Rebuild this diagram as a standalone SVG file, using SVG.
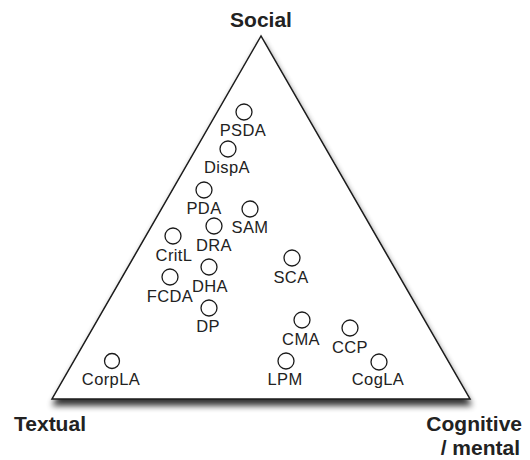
<svg xmlns="http://www.w3.org/2000/svg" width="530" height="460" viewBox="0 0 530 460">
<defs>
<filter id="sh" x="-10%" y="-10%" width="120%" height="125%">
<feGaussianBlur in="SourceAlpha" stdDeviation="3"/>
<feOffset dx="1" dy="6" result="b"/>
<feComponentTransfer><feFuncA type="linear" slope="0.8"/></feComponentTransfer>
<feMerge><feMergeNode/><feMergeNode in="SourceGraphic"/></feMerge>
</filter>
<style>
.tri{fill:#fff;stroke:#1a1a1a;stroke-width:1.5;stroke-linejoin:miter}
.n circle{fill:#fff;stroke:#1a1a1a;stroke-width:1.3}
.n text{font-family:"Liberation Sans",Arial,sans-serif;font-size:16.5px;letter-spacing:0.4px;fill:#222;text-anchor:middle}
.ax{font-family:"Liberation Sans",Arial,sans-serif;font-size:21px;font-weight:bold;fill:#222}
</style>
</defs>
<rect width="530" height="460" fill="#fff"/>
<polygon class="tri" points="261,36 52,399 470,399" filter="url(#sh)"/>
<text class="ax" x="261" y="27" text-anchor="middle">Social</text>
<text class="ax" x="14" y="431">Textual</text>
<text class="ax" x="522" y="431" text-anchor="end">Cognitive</text>
<text class="ax" x="520" y="455" text-anchor="end">/ mental</text>
<g id="connectors"></g>
<g id="PSDA" class="n"><circle cx="244" cy="112" r="8"/><text x="243" y="136">PSDA</text></g>
<g id="DispA" class="n"><circle cx="228" cy="149" r="8"/><text x="227" y="173">DispA</text></g>
<g id="PDA" class="n"><circle cx="204" cy="190" r="8"/><text x="204" y="214">PDA</text></g>
<g id="SAM" class="n"><circle cx="250" cy="209" r="8"/><text x="250" y="233">SAM</text></g>
<g id="DRA" class="n"><circle cx="214" cy="226" r="8"/><text x="214" y="251">DRA</text></g>
<g id="CritL" class="n"><circle cx="173" cy="236" r="8"/><text x="174" y="261">CritL</text></g>
<g id="DHA" class="n"><circle cx="209" cy="267" r="8"/><text x="210" y="292">DHA</text></g>
<g id="FCDA" class="n"><circle cx="170" cy="277" r="8"/><text x="170" y="302">FCDA</text></g>
<g id="DP" class="n"><circle cx="209" cy="308" r="8"/><text x="208" y="332">DP</text></g>
<g id="SCA" class="n"><circle cx="292" cy="258" r="8"/><text x="291" y="283">SCA</text></g>
<g id="CMA" class="n"><circle cx="302" cy="320" r="8"/><text x="301" y="345">CMA</text></g>
<g id="CCP" class="n"><circle cx="350" cy="328" r="8"/><text x="350" y="353">CCP</text></g>
<g id="LPM" class="n"><circle cx="286" cy="361" r="8"/><text x="285" y="385">LPM</text></g>
<g id="CogLA" class="n"><circle cx="379" cy="362" r="8"/><text x="378" y="385">CogLA</text></g>
<g id="CorpLA" class="n"><circle cx="112" cy="361" r="7.5"/><text x="111" y="385">CorpLA</text></g>
</svg>
